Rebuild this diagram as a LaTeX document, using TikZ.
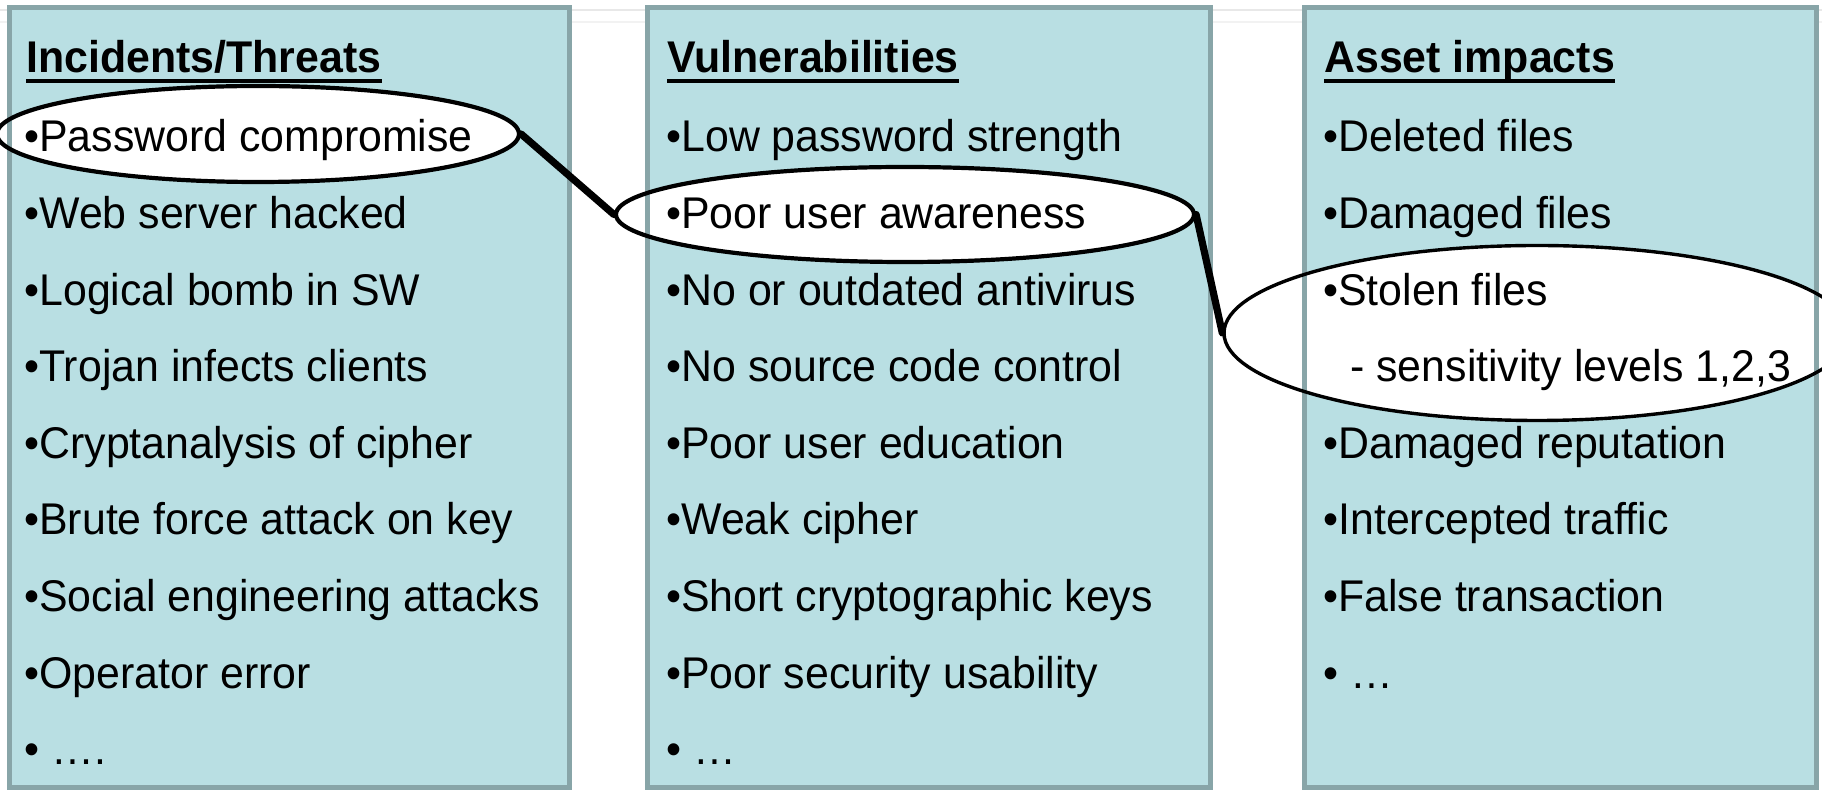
\documentclass[tikz,border=0pt]{standalone}
\usepackage{fontspec}
\setmainfont[FakeStretch=0.965]{Liberation Sans}
\usetikzlibrary{shapes.geometric}
\definecolor{boxfill}{HTML}{B9DFE3}
\definecolor{boxline}{HTML}{88A5A8}
\tikzset{
  colbox/.style={fill=boxfill},
  colborder/.style={draw=boxline, line width=2.5pt},
  item/.style={anchor=base west, inner sep=0pt, font=\fontsize{22.2pt}{26pt}\selectfont},
  hdr/.style={item, font=\fontsize{22.2pt}{26pt}\selectfont\bfseries},
  uline/.style={line width=1.6pt},
  ovalfill/.style={ellipse, fill=white, inner sep=0pt},
  ovalline/.style={ellipse, draw=black, inner sep=0pt},
  link/.style={line width=3.6pt, line cap=round},
}
\begin{document}
\begin{tikzpicture}[x=0.5pt, y=-0.5pt]
\useasboundingbox (0,0) rectangle (1822,790);
\fill[white] (0,0) rectangle (1822,790);
% faint background lines
\draw[gray!18, line width=1pt] (0,10) -- (1822,10);
\draw[gray!10, line width=1pt] (0,22) -- (1822,22);
% box fills
\fill[colbox] (9,8) rectangle (569,788);
\fill[colbox] (647,8) rectangle (1210,788);
\fill[colbox] (1304,8) rectangle (1816,788);
% ellipse fills
\node[ovalfill, minimum width=261pt, minimum height=48pt] (e1f) at (258,134) {};
\node[ovalfill, minimum width=289pt, minimum height=47.5pt] (e2f) at (905,214.5) {};
\node[ovalfill, minimum width=313pt, minimum height=87.5pt] (e3f) at (1537,333) {};
% box borders
\draw[colborder] (9,8) rectangle (569,788);
\draw[colborder] (647,8) rectangle (1210,788);
\draw[colborder] (1304,8) rectangle (1816,788);
% ellipse outlines
\node[ovalline, line width=2.1pt, minimum width=261pt, minimum height=48pt] (e1) at (e1f.center) {};
\node[ovalline, line width=2.1pt, minimum width=289pt, minimum height=47.5pt] (e2) at (e2f.center) {};
\node[ovalline, line width=1.7pt, minimum width=313pt, minimum height=87.5pt] (e3) at (e3f.center) {};
% connectors
\draw[link] (e1.east) -- (e2.west);
\draw[link] (e2.east) -- (e3.west);
% column 1
\node[hdr] (h1) at (26,73) {Incidents/Threats};
\draw[uline] ([yshift=-4pt]h1.base west) -- ([yshift=-4pt]h1.base east);
\node[item] (a1) at (24,152) {•Password compromise};
\node[item] (a2) at (24,229) {•Web server hacked};
\node[item] (a3) at (24,305.5) {•Logical bomb in SW};
\node[item] (a4) at (24,382) {•Trojan infects clients};
\node[item] (a5) at (24,459) {•Cryptanalysis of cipher};
\node[item] (a6) at (24,535) {•Brute force attack on key};
\node[item] (a7) at (24,612) {•Social engineering attacks};
\node[item] (a8) at (24,689) {•Operator error};
\node[item] (a9) at (24,765) {• ….};
% column 2
\node[hdr] (h2) at (667,73) {Vulnerabilities};
\draw[uline] ([yshift=-4pt]h2.base west) -- ([yshift=-4pt]h2.base east);
\node[item] (b1) at (666,152) {•Low password strength};
\node[item] (b2) at (666,229) {•Poor user awareness};
\node[item] (b3) at (666,305.5) {•No or outdated antivirus};
\node[item] (b4) at (666,382) {•No source code control};
\node[item] (b5) at (666,459) {•Poor user education};
\node[item] (b6) at (666,535) {•Weak cipher};
\node[item] (b7) at (666,612) {•Short cryptographic keys};
\node[item] (b8) at (666,689) {•Poor security usability};
\node[item] (b9) at (666,765) {• …};
% column 3
\node[hdr] (h3) at (1324,73) {Asset impacts};
\draw[uline] ([yshift=-4pt]h3.base west) -- ([yshift=-4pt]h3.base east);
\node[item] (c1) at (1323,152) {•Deleted files};
\node[item] (c2) at (1323,229) {•Damaged files};
\node[item] (c3) at (1323,305.5) {•Stolen files};
\node[item] (c4) at (1350,382) {- sensitivity levels 1,2,3};
\node[item] (c5) at (1323,459) {•Damaged reputation};
\node[item] (c6) at (1323,535) {•Intercepted traffic};
\node[item] (c7) at (1323,612) {•False transaction};
\node[item] (c8) at (1323,689) {• …};
\end{tikzpicture}
\end{document}
